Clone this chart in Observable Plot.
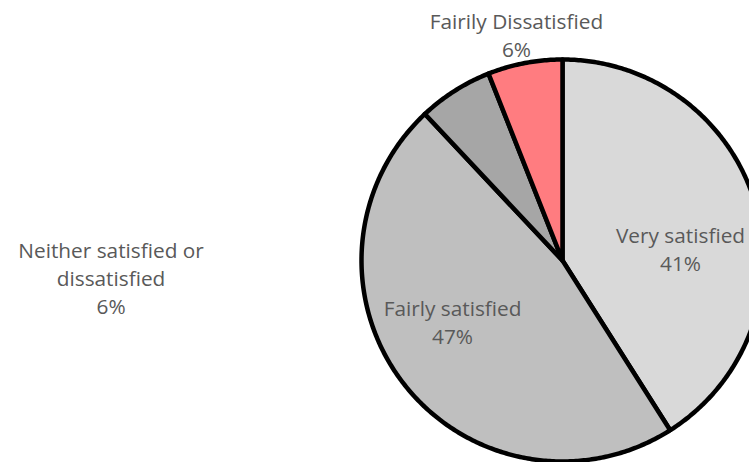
<!DOCTYPE html>
<html><head><meta charset="utf-8">
<script src="https://cdn.jsdelivr.net/npm/d3@7"></script>
<script src="https://cdn.jsdelivr.net/npm/@observablehq/plot@0.6"></script>
<style>body{margin:0;background:#fff;overflow:hidden}</style>
</head><body><div id="chart"></div>
<script>
const categories = ["Very satisfied", "Fairly satisfied", "Neither satisfied or\ndissatisfied", "Fairily Dissatisfied"];
const values = [41, 47, 6, 6];
const colors = ["#d9d9d9", "#bfbfbf", "#a6a6a6", "#ff7c80"];

// label anchor positions in unit-radius pie coordinates (layout, not data)
const labelPos = [[0.587, 0.063], [-0.547, -0.303], [-2.246, -0.082], [-0.229, 1.128]];

const arcs = d3.pie().sort(null).value(d => d)(values);
const polys = [];
arcs.forEach((a, i) => {
  polys.push({x: 0, y: 0, k: i});
  const n = Math.max(4, Math.ceil((a.endAngle - a.startAngle) / 0.01));
  for (let j = 0; j <= n; j++) {
    const t = a.startAngle + (a.endAngle - a.startAngle) * j / n;
    polys.push({x: Math.sin(t), y: Math.cos(t), k: i});
  }
  polys.push({x: 0, y: 0, k: i});
});
const labels = categories.map((c, i) => ({
  x: labelPos[i][0], y: labelPos[i][1],
  text: c + "\n" + values[i] + "%"
}));

const chart = Plot.plot({
  width: 749, height: 462,
  margin: 0,
  style: {background: "#fff", overflow: "visible"},
  x: {domain: [-1, 1], range: [361, 763], axis: null},
  y: {domain: [-1, 1], range: [461, 59], axis: null},
  marks: [
    Plot.line(polys, {x: "x", y: "y", z: "k", fill: d => colors[d.k], stroke: "#000", strokeWidth: 4.5, strokeLinejoin: "round", curve: "linear"}),
    Plot.text(labels, {x: "x", y: "y", text: "text", fill: "#595959", fontSize: 20.8, lineHeight: 1.346, fontFamily: "Open Sans", textAnchor: "middle"})
  ]
});
document.getElementById("chart").appendChild(chart);
</script>
</body></html>
